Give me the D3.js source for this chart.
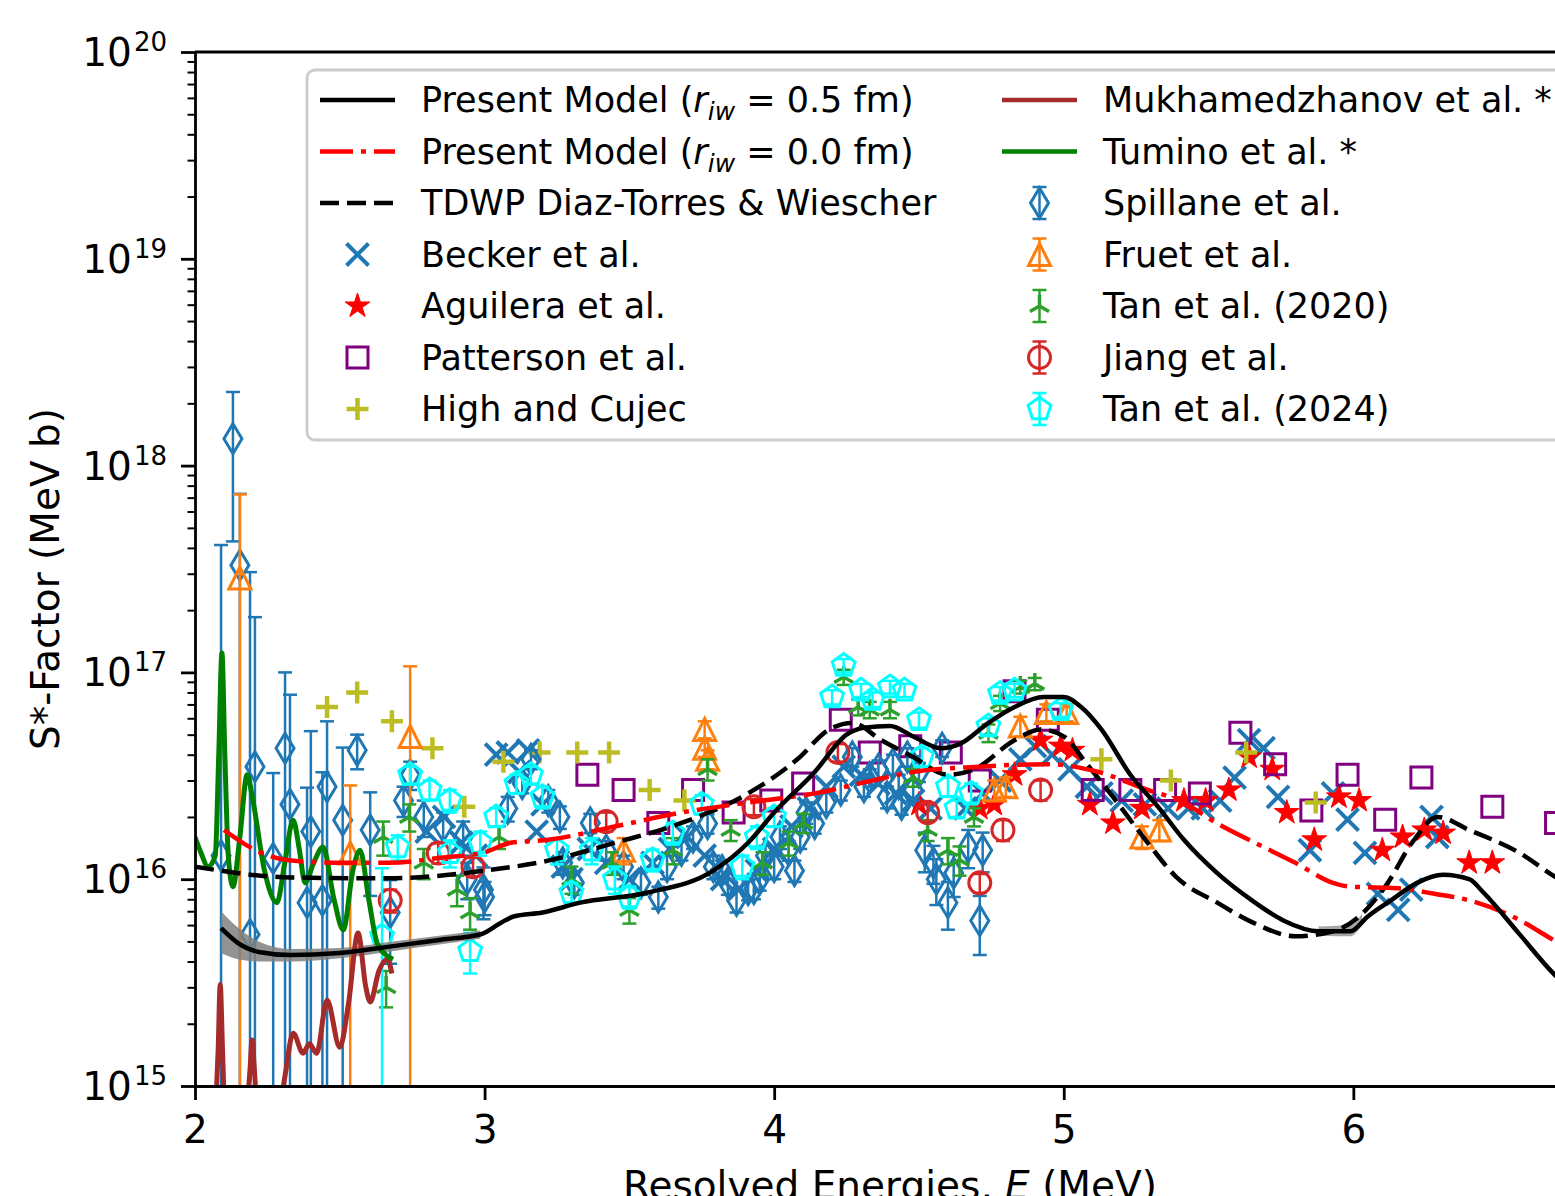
<!DOCTYPE html>
<html>
<head>
<meta charset="utf-8">
<script src="https://cdn.jsdelivr.net/npm/d3@7"></script>
<style>
body { margin: 0; background: #fff; }
text { font-family: "DejaVu Sans", sans-serif; white-space: pre; }
</style>
</head>
<body>
<script>
// ---------- model curves ----------
const modelE05 = [2.09,2.15,2.22,2.33,2.5,2.71,2.85,2.985,3.06,3.1,3.2,3.33,3.56,3.79,3.91,4.0,4.14,4.25,4.31,4.4,4.48,4.575,4.64,4.74,4.83,4.93,5.0,5.06,5.13,5.23,5.33,5.415,5.53,5.65,5.76,5.88,5.99,6.05,6.13,6.22,6.31,6.4,6.45,6.57,6.7,6.8];
const modelS05 = [5.8e15,4.9e15,4.45e15,4.3e15,4.4e15,4.8e15,5.1e15,5.4e15,6.2e15,6.6e15,6.9e15,7.7e15,8.6e15,1.1e16,1.5e16,2.1e16,3.3e16,5.0e16,5.4e16,5.5e16,4.9e16,4.3e16,4.5e16,5.7e16,6.8e16,7.6e16,7.6e16,6.8e16,5.3e16,3.2e16,2.2e16,1.55e16,1.07e16,7.9e15,6.3e15,5.6e15,5.6e15,6.6e15,7.9e15,9.6e15,1.05e16,1.0e16,8.6e15,5.5e15,3.4e15,2.6e15];

const bandE  = [2.09,2.15,2.22,2.33,2.5,2.71,2.85,2.985];
const bandLo = [4.4e15,4.1e15,4.0e15,4.0e15,4.15e15,4.55e15,4.85e15,5.15e15];
const bandHi = [7.0e15,5.8e15,5.0e15,4.6e15,4.65e15,5.05e15,5.35e15,5.65e15];
const band2E  = [5.88,5.94,5.99,6.03];
const band2Lo = [5.35e15,5.3e15,5.3e15,6.0e15];
const band2Hi = [5.9e15,5.95e15,6.0e15,6.8e15];

const modelE00 = [2.1,2.21,2.33,2.5,2.67,2.85,3.0,3.09,3.22,3.45,3.68,3.91,4.14,4.34,4.48,4.71,4.94,5.12,5.29,5.4,5.53,5.66,5.8,5.93,5.99,6.1,6.17,6.28,6.4,6.55,6.7,6.8];
const modelS00 = [1.73e16,1.38e16,1.23e16,1.2e16,1.2e16,1.27e16,1.35e16,1.5e16,1.55e16,1.8e16,2.1e16,2.35e16,2.6e16,3.0e16,3.3e16,3.5e16,3.6e16,3.3e16,2.7e16,2.4e16,1.86e16,1.5e16,1.2e16,9.6e15,9.2e15,9.1e15,9.0e15,8.5e15,7.9e15,6.6e15,5.0e15,4.2e15];

const tdwpE = [2.0,2.33,2.67,3.0,3.22,3.45,3.68,3.91,4.08,4.19,4.27,4.37,4.48,4.6,4.69,4.83,4.92,5.0,5.08,5.17,5.29,5.39,5.53,5.65,5.8,5.93,6.02,6.11,6.21,6.29,6.4,6.57,6.7,6.8];
const tdwpS = [1.15e16,1.02e16,1.01e16,1.1e16,1.23e16,1.5e16,1.87e16,2.6e16,3.8e16,5.3e16,5.7e16,4.7e16,3.9e16,3.2e16,3.4e16,4.7e16,5.3e16,4.9e16,3.6e16,2.5e16,1.5e16,1.02e16,7.7e15,6.2e15,5.3e15,5.6e15,6.6e15,9.2e15,1.55e16,2.0e16,1.73e16,1.35e16,1.02e16,8.5e15];

const mukhE = [2.07,2.08,2.087,2.095,2.105,2.15,2.19,2.197,2.205,2.22,2.27,2.31,2.339,2.373,2.395,2.42,2.456,2.5,2.53,2.563,2.59,2.605,2.635,2.664,2.68];
const mukhS = [7e14,1.5e15,3.1e15,1.5e15,6e14,4e14,1.2e15,1.67e15,1.2e15,6e14,5e14,1.1e15,1.8e15,1.44e15,1.6e15,1.44e15,2.6e15,1.54e15,2.5e15,5.5e15,3.0e15,2.55e15,3.6e15,4.1e15,3.5e15];

const tuminoE = [2.0,2.02,2.045,2.07,2.082,2.093,2.103,2.115,2.131,2.155,2.18,2.2,2.24,2.283,2.31,2.339,2.36,2.38,2.41,2.442,2.48,2.512,2.545,2.57,2.6,2.629,2.66,2.684];
const tuminoS = [1.6e16,1.35e16,1.15e16,1.3e16,4e16,1.24e17,4e16,1.3e16,9.2e15,1.6e16,3.2e16,2.4e16,1.1e16,7.7e15,1.2e16,1.93e16,1.4e16,9.6e15,1.2e16,1.43e16,8e15,5.7e15,1.1e16,1.38e16,8e15,4.9e15,4.3e15,4.1e15];

// ---------- measurements ----------
const beckerE = [2.80,2.86,2.92,2.97,3.04,3.08,3.12,3.15,3.18,3.2,3.27,3.3,3.36,3.42,3.5,3.58,3.64,3.7,3.76,3.82,3.88,3.94,4.0,4.06,4.12,4.18,4.24,4.3,4.36,4.42,4.48,4.54,4.66,4.72,4.78,4.85,4.9,4.96,5.02,5.08,5.13,5.2,5.28,5.36,5.43,5.48,5.54,5.59,5.64,5.69,5.74,5.85,5.93,5.98,6.04,6.085,6.155,6.2,6.27,6.29];
const beckerS = [1.7e16,2.0e16,1.5e16,1.3e16,4.0e16,4.1e16,3.3e16,4.2e16,1.7e16,2.3e16,1.15e16,1.0e16,1.4e16,1.2e16,1.0e16,1.2e16,1.4e16,1.6e16,1.3e16,1.0e16,9e15,1.1e16,1.4e16,1.8e16,2.2e16,2.8e16,3.5e16,3.2e16,2.9e16,2.6e16,2.4e16,2.2e16,2.2e16,2.6e16,3.0e16,3.8e16,4.4e16,4.0e16,3.4e16,2.8e16,2.6e16,2.4e16,2.3e16,2.2e16,2.2e16,2.2e16,2.4e16,3.1e16,4.7e16,4.3e16,2.5e16,1.38e16,2.6e16,1.94e16,1.34e16,8.5e15,7.1e15,8.9e15,2.0e16,1.6e16];

const aguileraE = [4.5,4.71,4.76,4.83,4.92,4.99,5.03,5.09,5.17,5.27,5.415,5.49,5.57,5.64,5.72,5.77,5.865,5.95,6.02,6.1,6.17,6.245,6.31,6.4,6.48];
const aguileraS = [2.3e16,2.2e16,2.3e16,3.2e16,4.7e16,4.4e16,4.2e16,2.3e16,1.87e16,2.2e16,2.4e16,2.4e16,2.7e16,3.9e16,3.4e16,2.1e16,1.55e16,2.5e16,2.4e16,1.38e16,1.6e16,1.73e16,1.67e16,1.2e16,1.2e16];

const pattersonE = [3.355,3.48,3.6,3.72,3.86,3.99,4.1,4.23,4.33,4.47,4.61,4.71,4.83,4.945,5.1,5.23,5.35,5.47,5.61,5.73,5.855,5.98,6.11,6.235,6.48,6.7];
const pattersonS = [3.2e16,2.7e16,1.87e16,2.7e16,2.1e16,2.4e16,2.9e16,5.9e16,4.1e16,4.4e16,4.1e16,3.0e16,8.1e16,5.9e16,2.7e16,2.7e16,2.7e16,2.6e16,5.1e16,3.6e16,2.15e16,3.2e16,1.94e16,3.1e16,2.24e16,1.87e16];

const highE = [2.456,2.56,2.68,2.82,2.93,3.065,3.19,3.32,3.43,3.57,3.69,5.13,5.37,5.63,5.87];
const highS = [6.8e16,8.0e16,5.8e16,4.3e16,2.24e16,3.7e16,4.1e16,4.1e16,4.1e16,2.7e16,2.4e16,3.8e16,3.0e16,4.1e16,2.35e16];

const spillaneE = [2.09,2.131,2.155,2.19,2.207,2.27,2.311,2.328,2.387,2.40,2.44,2.456,2.51,2.56,2.605,2.674,2.72,2.743,2.79,2.857,2.926,2.94,2.996,3.0,3.08,3.13,3.16,3.22,3.26,3.27,3.31,3.365,3.42,3.48,3.54,3.6,3.63,3.68,3.72,3.77,3.79,3.82,3.84,3.87,3.91,3.93,3.95,3.97,4.0,4.02,4.05,4.07,4.09,4.11,4.14,4.18,4.23,4.27,4.31,4.33,4.36,4.39,4.41,4.43,4.44,4.46,4.48,4.5,4.52,4.55,4.56,4.58,4.6,4.62,4.67,4.71,4.72];
const spillaneS = [1.3e16,1.35e18,3.3e17,5.4e15,3.5e16,1.26e16,4.3e16,2.3e16,7.7e15,1.7e16,7.9e15,2.8e16,1.93e16,4.2e16,1.73e16,6.9e15,2.4e16,3.2e16,2.0e16,1.8e16,1.6e16,1.0e16,8.9e15,8.2e15,2.2e16,2.9e16,3.8e16,2.4e16,2.0e16,1.2e16,9.6e15,1.87e16,1.38e16,1.15e16,9.6e15,8.2e15,1.15e16,1.38e16,1.6e16,1.86e16,1.15e16,1.1e16,9.6e15,7.9e15,8.9e15,9.0e15,1.0e16,1.3e16,1.15e16,1.6e16,1.38e16,1.1e16,1.6e16,2.1e16,1.86e16,2.35e16,2.7e16,3.9e16,2.8e16,3.1e16,3.4e16,2.5e16,3.6e16,2.9e16,2.3e16,3.9e16,2.7e16,3.3e16,1.38e16,1.2e16,1.0e16,4.3e16,7.7e15,1.07e16,1.43e16,6.3e15,1.38e16];
const spillaneErr = [4.0e17,0.92e18,4.0e17,3.0e17,1.5e17,2.0e16,5.7e16,5.5e16,2.0e16,3.5e16,2.5e16,3.0e16,2.4e16,0.8e16,0.9e16,3e15,4e15,5e15,4e15,3e15,3e15,2e15,2.5e15,1.5e15,3e15,3e15,4e15,3e15,2.5e15,1.5e15,1.2e15,2e15,1.5e15,1.5e15,1.2e15,1e15,1.5e15,1.5e15,2e15,2e15,1.5e15,1.3e15,1.2e15,1e15,1e15,1e15,1.2e15,1.5e15,1.5e15,2e15,1.5e15,1.3e15,2e15,2.5e15,2e15,2.5e15,3e15,4e15,3e15,3e15,3.5e15,3e15,4e15,3e15,2.5e15,4e15,3e15,3.5e15,3e15,2.5e15,2.5e15,4e15,2e15,2.5e15,3e15,2e15,3e15];

const fruetE = [2.155,2.536,2.743,3.48,3.76,3.76,3.77,4.76,4.8,4.85,4.94,5.01,5.27,5.33];
const fruetS = [2.86e17,1.34e16,4.9e16,1.38e16,5.3e16,4.3e16,3.8e16,2.7e16,2.8e16,5.5e16,6.4e16,6.4e16,1.6e16,1.73e16];
const fruetErr = [4.4e17,1.5e16,5.8e16,2e15,5e15,4e15,4e15,3e15,3e15,6e15,6e15,6e15,2e15,2e15];

const tan20E = [2.65,2.66,2.74,2.79,2.905,2.95,3.05,3.3,3.44,3.5,3.65,3.77,3.85,3.96,4.05,4.1,4.24,4.29,4.33,4.4,4.48,4.53,4.6,4.64,4.69,4.74,4.78,4.85,4.9];
const tan20S = [1.6e16,3.0e15,2.0e16,1.2e16,8.9e15,6.9e15,1.6e16,1.0e16,1.2e16,7.1e15,1.38e16,3.4e16,1.73e16,1.2e16,1.5e16,1.87e16,9.5e16,6.8e16,6.6e16,6.6e16,3.1e16,1.73e16,1.38e16,1.24e16,2.0e16,5.1e16,7.1e16,8.5e16,8.8e16];
const tan20Err = [3e15,6e14,3e15,2e15,1.5e15,1.2e15,2e15,1.5e15,1.5e15,1e15,2e15,4e15,2e15,1.5e15,2e15,2e15,8e15,6e15,6e15,6e15,3e15,2e15,2e15,2e15,2e15,5e15,6e15,6e15,6e15];

const jiangE = [2.674,2.84,2.96,3.42,3.93,4.22,4.53,4.71,4.79,4.92];
const jiangS = [7.9e15,1.34e16,1.15e16,1.9e16,2.24e16,4.1e16,2.1e16,9.6e15,1.73e16,2.7e16];
const jiangErr = [1e15,1.5e15,1.2e15,2e15,2e15,4e15,2e15,1e15,2e15,3e15];

const tan24E = [2.646,2.7,2.743,2.81,2.88,2.88,2.95,2.985,3.04,3.11,3.16,3.2,3.25,3.3,3.37,3.45,3.5,3.58,3.65,3.75,3.89,3.94,4.0,4.2,4.24,4.3,4.34,4.4,4.45,4.5,4.51,4.6,4.63,4.68,4.74,4.78,4.83,4.99];
const tan24S = [5.3e15,1.43e16,3.2e16,2.7e16,2.4e16,1.34e16,4.5e15,1.5e16,2.0e16,2.9e16,3.2e16,2.5e16,1.38e16,8.6e15,1.38e16,1.0e16,8.2e15,1.24e16,1.67e16,2.3e16,1.15e16,1.6e16,2.0e16,7.6e16,1.08e17,8.2e16,7.4e16,8.5e16,8.2e16,5.9e16,3.9e16,2.8e16,2.2e16,2.6e16,5.5e16,7.9e16,8.2e16,6.6e16];
const tan24Err = [6e15,2e15,3e15,3e15,3e15,2e15,1e15,2e15,2e15,3e15,3e15,3e15,2e15,1e15,2e15,1.5e15,1e15,1.5e15,2e15,2.5e15,1.5e15,2e15,2e15,6e15,8e15,6e15,6e15,6e15,6e15,5e15,4e15,3e15,2e15,3e15,5e15,6e15,6e15,5e15];

// axis ticks
const xTicks = [2, 3, 4, 5, 6];
const yTickExp = [15, 16, 17, 18, 19, 20];

// ---------- setup ----------
const W = 1555, H = 1196;
const x = d3.scaleLinear().domain([2, 6.8]).range([195, 1585]);
const y = d3.scaleLog().domain([1e15, 1e20]).range([1086, 52]);

const svg = d3.select("body").append("svg").attr("width", W).attr("height", H);
svg.append("defs").append("clipPath").attr("id", "clip")
  .append("rect").attr("x", 195).attr("y", 52).attr("width", 1390).attr("height", 1034);
const plot = svg.append("g").attr("clip-path", "url(#clip)");

// marker shapes
function markerPath(type, s) {
  if (type === "x") return `M${-s},${-s}L${s},${s}M${-s},${s}L${s},${-s}`;
  if (type === "plus") return `M${-s},0H${s}M0,${-s}V${s}`;
  if (type === "square") return `M${-s},${-s}H${s}V${s}H${-s}Z`;
  if (type === "diamond") return `M0,${-s}L${0.6*s},0L0,${s}L${-0.6*s},0Z`;
  if (type === "triangle") return `M0,${-s}L${-s},${s}L${s},${s}Z`;
  if (type === "circle") return `M${s},0A${s},${s} 0 1 1 ${-s},0A${s},${s} 0 1 1 ${s},0Z`;
  if (type === "tri") return `M0,0V${-s}M0,0L${-0.866*s},${0.5*s}M0,0L${0.866*s},${0.5*s}`;
  if (type === "pentagon" || type === "star") {
    const n = type === "star" ? 10 : 5;
    const pts = d3.range(n).map(i => {
      const r = (type === "star" && i % 2) ? s * 0.382 : s;
      const a = -Math.PI / 2 + i * 2 * Math.PI / n;
      return [r * Math.cos(a), r * Math.sin(a)];
    });
    return "M" + pts.map(p => p.join(",")).join("L") + "Z";
  }
}

const styles = {
  becker:    {shape: "x",        color: "#1f77b4", size: 11,  sw: 4,   fill: false},
  aguilera:  {shape: "star",     color: "#ff0000", size: 13,  sw: 1,   fill: true},
  patterson: {shape: "square",   color: "#800080", size: 10.5,sw: 3,   fill: false},
  high:      {shape: "plus",     color: "#bcbd22", size: 11,  sw: 4.5, fill: false},
  spillane:  {shape: "diamond",  color: "#1f77b4", size: 15,  sw: 3,   fill: false},
  fruet:     {shape: "triangle", color: "#ff7f0e", size: 11,  sw: 3,   fill: false},
  tan20:     {shape: "tri",      color: "#2ca02c", size: 11,  sw: 3.5, fill: false},
  jiang:     {shape: "circle",   color: "#d62728", size: 11,  sw: 3,   fill: false},
  tan24:     {shape: "pentagon", color: "#00ffff", size: 12,  sw: 3,   fill: false}
};

function drawPoints(E, S, err, st) {
  const g = plot.append("g");
  E.forEach((e, i) => {
    const cx = x(e), cy = y(S[i]);
    if (err) {
      const top = y(S[i] + err[i]);
      const lowV = S[i] - err[i];
      const bot = lowV > 0 ? y(lowV) : 1200;
      g.append("line").attr("x1", cx).attr("x2", cx).attr("y1", top).attr("y2", bot)
        .attr("stroke", st.color).attr("stroke-width", 2.5);
      g.append("line").attr("x1", cx - 7).attr("x2", cx + 7).attr("y1", top).attr("y2", top)
        .attr("stroke", st.color).attr("stroke-width", 2.5);
      if (lowV > 0) g.append("line").attr("x1", cx - 7).attr("x2", cx + 7).attr("y1", bot).attr("y2", bot)
        .attr("stroke", st.color).attr("stroke-width", 2.5);
    }
    g.append("path").attr("d", markerPath(st.shape, st.size))
      .attr("transform", `translate(${cx},${cy})`)
      .attr("fill", st.fill ? st.color : "none")
      .attr("stroke", st.color).attr("stroke-width", st.sw)
      .attr("stroke-linejoin", "miter");
  });
}

drawPoints(beckerE, beckerS, null, styles.becker);
drawPoints(aguileraE, aguileraS, null, styles.aguilera);
drawPoints(pattersonE, pattersonS, null, styles.patterson);
drawPoints(highE, highS, null, styles.high);
drawPoints(spillaneE, spillaneS, spillaneErr, styles.spillane);
drawPoints(fruetE, fruetS, fruetErr, styles.fruet);
drawPoints(tan20E, tan20S, tan20Err, styles.tan20);
drawPoints(jiangE, jiangS, jiangErr, styles.jiang);
drawPoints(tan24E, tan24S, tan24Err, styles.tan24);

// ---------- lines ----------
const line = d3.line().x(d => x(d[0])).y(d => y(d[1])).curve(d3.curveMonotoneX);
const zip = (a, b) => a.map((v, i) => [v, b[i]]);
const area = d3.area().x(d => x(d[0])).y0(d => y(d[1])).y1(d => y(d[2])).curve(d3.curveMonotoneX);

plot.append("path").attr("d", area(bandE.map((e, i) => [e, bandLo[i], bandHi[i]])))
  .attr("fill", "#808080").attr("opacity", 0.85);
plot.append("path").attr("d", area(band2E.map((e, i) => [e, band2Lo[i], band2Hi[i]])))
  .attr("fill", "#808080").attr("opacity", 0.7);

function drawLine(E, S, color, dash, w) {
  plot.append("path").attr("d", line(zip(E, S)))
    .attr("fill", "none").attr("stroke", color).attr("stroke-width", w)
    .attr("stroke-dasharray", dash).attr("stroke-linecap", "butt");
}
drawLine(mukhE, mukhS, "#a52a2a", null, 5);
drawLine(tuminoE, tuminoS, "#008000", null, 5);
drawLine(tdwpE, tdwpS, "#000", "19,8", 4.5);
drawLine(modelE00, modelS00, "#ff0000", "33,8,5,8", 4.5);
drawLine(modelE05, modelS05, "#000", null, 4.5);

// ---------- axes ----------
const minorY = [];
yTickExp.slice(0, -1).forEach(p => { for (let k = 2; k < 10; k++) minorY.push(k * Math.pow(10, p)); });

const axisStyle = g => {
  g.select(".domain").attr("stroke-width", 2.8);
  g.selectAll(".tick line").attr("stroke-width", 2.8);
};

svg.append("g").attr("transform", "translate(195,0)")
  .call(d3.axisLeft(y).tickValues(minorY).tickSize(7.5).tickSizeOuter(0).tickFormat(""))
  .call(g => g.select(".domain").remove())
  .call(g => g.selectAll(".tick line").attr("stroke-width", 2));

svg.append("g").attr("transform", "translate(195,0)")
  .call(d3.axisLeft(y).tickValues(yTickExp.map(p => Math.pow(10, p))).tickSize(14).tickSizeOuter(0).tickFormat(""))
  .call(axisStyle);

yTickExp.forEach(p => {
  const t = svg.append("text").attr("x", 167).attr("y", y(Math.pow(10, p)) + 14)
    .attr("text-anchor", "end").attr("font-size", 39);
  t.append("tspan").text("10");
  t.append("tspan").attr("font-size", 26).attr("dy", -15).attr("dx", 2).text(p);
});

svg.append("g").attr("transform", "translate(0,1086)")
  .call(d3.axisBottom(x).tickValues(xTicks).tickSize(14).tickSizeOuter(0).tickPadding(15).tickFormat(d3.format("d")))
  .call(axisStyle)
  .call(g => g.selectAll(".tick text").attr("font-size", 39).attr("font-family", "DejaVu Sans").attr("fill", "#000"));

svg.append("line").attr("x1", 195).attr("x2", 1585).attr("y1", 52).attr("y2", 52)
  .attr("stroke", "#000").attr("stroke-width", 2.8);

// axis titles
const xl = svg.append("text").attr("x", 890).attr("y", 1199).attr("text-anchor", "middle").attr("font-size", 39);
xl.append("tspan").text("Resolved Energies, ");
xl.append("tspan").attr("font-style", "italic").text("E");
xl.append("tspan").text(" (MeV)");

svg.append("text").attr("transform", "translate(59,579) rotate(-90)")
  .attr("text-anchor", "middle").attr("font-size", 39).text("S*-Factor (MeV b)");

// ---------- legend ----------
const lg = svg.append("g");
lg.append("rect").attr("x", 307).attr("y", 70).attr("width", 1268).attr("height", 370).attr("rx", 8)
  .attr("fill", "#fff").attr("fill-opacity", 0.8).attr("stroke", "#cccccc").attr("stroke-width", 2.8);

const rowY = i => 100 + i * 51.5;
const legendLeft = [
  {kind: "line", color: "#000", dash: null, label: "0.5"},
  {kind: "line", color: "#ff0000", dash: "33,8,5,8", label: "0.0"},
  {kind: "line", color: "#000", dash: "19,8", label: "TDWP Diaz-Torres & Wiescher"},
  {kind: "mark", st: styles.becker, label: "Becker et al."},
  {kind: "mark", st: styles.aguilera, label: "Aguilera et al."},
  {kind: "mark", st: styles.patterson, label: "Patterson et al."},
  {kind: "mark", st: styles.high, label: "High and Cujec"}
];
const legendRight = [
  {kind: "line", color: "#a52a2a", dash: null, label: "Mukhamedzhanov et al. *"},
  {kind: "line", color: "#008000", dash: null, label: "Tumino et al. *"},
  {kind: "err", st: styles.spillane, label: "Spillane et al."},
  {kind: "err", st: styles.fruet, label: "Fruet et al."},
  {kind: "err", st: styles.tan20, label: "Tan et al. (2020)"},
  {kind: "err", st: styles.jiang, label: "Jiang et al."},
  {kind: "err", st: styles.tan24, label: "Tan et al. (2024)"}
];

function legendColumn(items, hx0, hx1, tx) {
  items.forEach((it, i) => {
    const cy = rowY(i), cx = (hx0 + hx1) / 2;
    if (it.kind === "line") {
      lg.append("line").attr("x1", hx0).attr("x2", hx1).attr("y1", cy).attr("y2", cy)
        .attr("stroke", it.color).attr("stroke-width", 4.5).attr("stroke-dasharray", it.dash);
    } else {
      if (it.kind === "err") {
        lg.append("path").attr("d", `M${cx},${cy - 16}V${cy + 16}M${cx - 7},${cy - 16}H${cx + 7}M${cx - 7},${cy + 16}H${cx + 7}`)
          .attr("stroke", it.st.color).attr("stroke-width", 2.5).attr("fill", "none");
      }
      lg.append("path").attr("d", markerPath(it.st.shape, it.st.size))
        .attr("transform", `translate(${cx},${cy})`)
        .attr("fill", it.st.fill ? it.st.color : "none")
        .attr("stroke", it.st.color).attr("stroke-width", it.st.sw);
    }
    const t = lg.append("text").attr("x", tx).attr("y", cy + 12).attr("font-size", 35);
    if (it.label === "0.5" || it.label === "0.0") {
      t.append("tspan").text("Present Model (");
      t.append("tspan").attr("font-style", "italic").text("r");
      t.append("tspan").attr("font-style", "italic").attr("font-size", 25).attr("dy", 8).text("iw");
      t.append("tspan").attr("dy", -8).text(" = " + it.label + " fm)");
    } else {
      t.text(it.label);
    }
  });
}
legendColumn(legendLeft, 320, 395, 421);
legendColumn(legendRight, 1002, 1077, 1103);
</script>
</body>
</html>
